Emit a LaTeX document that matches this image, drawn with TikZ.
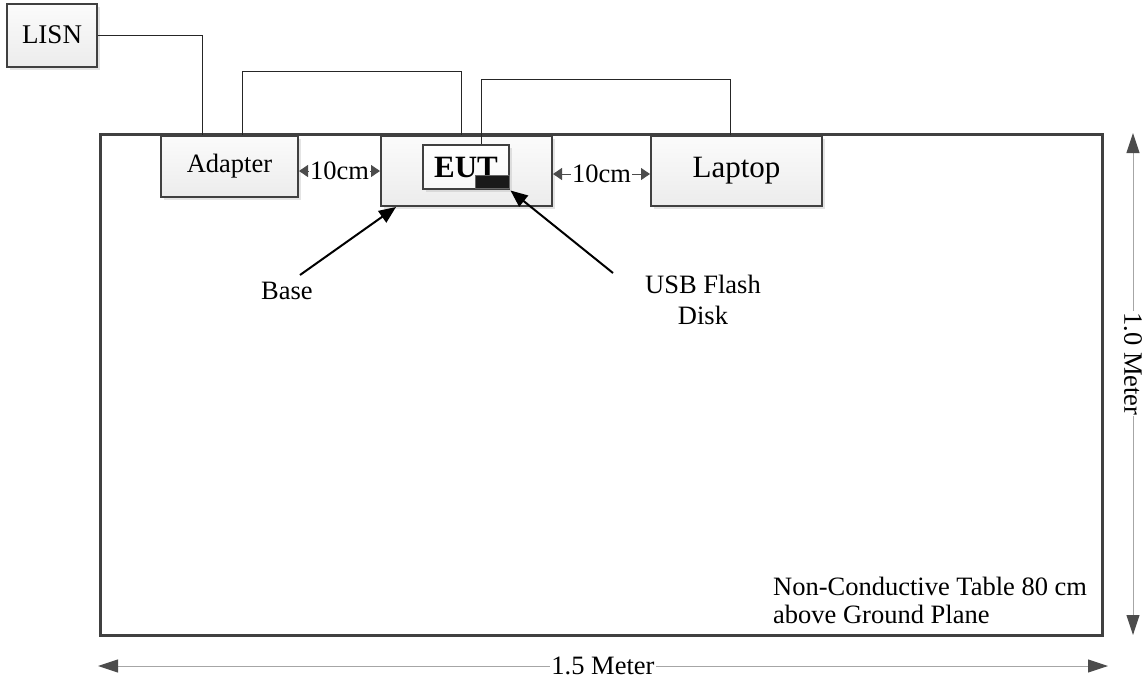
\documentclass[tikz,border=0pt]{standalone}
\usepackage{fontspec}
\setmainfont{Liberation Serif}
\usetikzlibrary{arrows.meta,shadows}
\begin{document}
\begin{tikzpicture}[x=1pt,y=-1pt,font=\fontsize{26.5}{28}\selectfont,
	box/.style={draw=black!75,line width=2pt,top color=gray!3,bottom color=gray!15,inner sep=0pt,
		drop shadow={shadow xshift=3pt,shadow yshift=-3pt,fill=gray!60,opacity=0.35}},
	wire/.style={draw=black!85,line width=1pt},
	pointer/.style={line width=2pt,-{Triangle[length=17pt,width=14pt]}},
	gap/.style={draw=black!70,line width=1pt,{Triangle[length=9pt,width=12pt]}-{Triangle[length=9pt,width=12pt]}},
	dim/.style={draw=gray!70,line width=1pt,{Triangle[length=20pt,width=13pt,color=black!70]}-{Triangle[length=20pt,width=13pt,color=black!70]}}]
	\useasboundingbox (0,0) rectangle (1144,681);
	\draw[line width=3pt,draw=black!75] (100,134) rectangle (1102,635);
	\node[box,minimum width=90pt,minimum height=63pt,font=\fontsize{27}{28}\selectfont] (lisn) at (52,35) {LISN};
	\node[box,minimum width=137pt,minimum height=61pt] (adapter) at (229.5,166.5) {Adapter};
	\node[box,minimum width=171pt,minimum height=70pt] (eut) at (466.5,171) {};
	\node[box,minimum width=171pt,minimum height=70pt,font=\fontsize{31}{32}\selectfont] (laptop) at (736.5,171) {Laptop};
	\node[box,top color=white,bottom color=gray!6,minimum width=86pt,minimum height=44pt,font=\fontsize{31}{32}\selectfont\bfseries] (usb) at (466,167) {EUT};
	\node[draw=black!60,fill=black!90,line width=1pt,minimum width=34pt,minimum height=13pt,inner sep=0pt] (flash) at (492,181.5) {};
	\draw[wire] (lisn.east) -| ([xshift=-27.5pt]adapter.north);
	\draw[wire] ([xshift=12.5pt]adapter.north) -- ++(0,-64) -| ([xshift=-5.5pt]eut.north);
	\draw[wire] ([xshift=15pt]usb.north) -- ++(0,-65) -| ([xshift=-6.5pt]laptop.north);
	\draw[gap] (adapter.east |- eut.west) -- node[fill=white,inner sep=1pt]{10cm} (eut.west);
	\draw[gap] ([yshift=-3pt]eut.east) -- node[fill=white,inner sep=1pt]{10cm} ([yshift=-3pt]laptop.west);
	\node (base) at (287,291) {Base};
	\coordinate (basetail) at (300,275);
	\draw[pointer] (basetail) -- ([xshift=16pt]eut.south west);
	\node[align=center,font=\fontsize{26.5}{31}\selectfont] (usblabel) at (703,300) {USB Flash\\Disk};
	\coordinate (usbtail) at (613,273);
	\draw[pointer] (usbtail) -- ([shift={(1pt,-2pt)}]flash.south east);
	\node[anchor=north west,align=left,inner sep=0pt] (note) at (773,577) {Non-Conductive Table 80 cm\\above Ground Plane};
	\coordinate (wl) at (98,666);
	\coordinate (wr) at (1108,666);
	\draw[dim] (wl) -- node[fill=white,inner sep=1pt]{1.5 Meter} (wr);
	\coordinate (ht) at (1133,133);
	\coordinate (hb) at (1133,635);
	\draw[dim] (ht) -- node[pos=0.46,fill=white,inner sep=1pt,rotate=-90]{1.0 Meter} (hb);
\end{tikzpicture}
\end{document}
